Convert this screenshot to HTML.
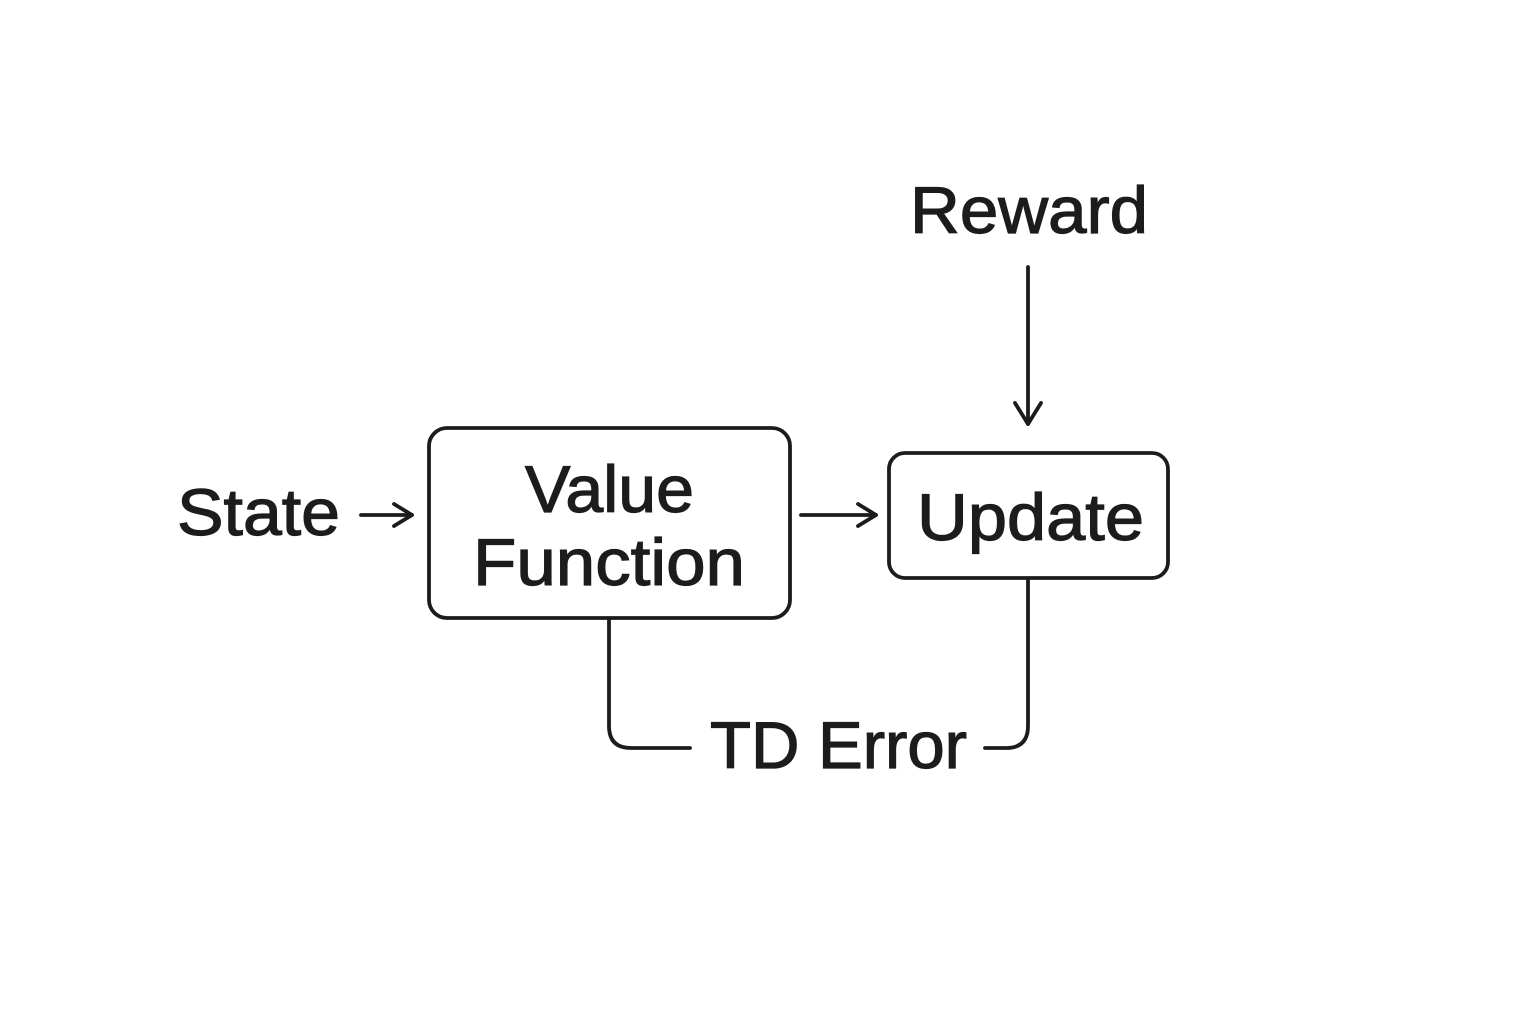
<!DOCTYPE html>
<html><head><meta charset="utf-8"><style>
html,body{margin:0;padding:0;background:#fff;}
svg{display:block;}
text{font-family:"Liberation Sans",sans-serif;fill:#1c1c1c;stroke:#1c1c1c;stroke-width:1.2;}
</style></head><body>
<svg width="1536" height="1024" viewBox="0 0 1536 1024" xmlns="http://www.w3.org/2000/svg">
<rect width="1536" height="1024" fill="#fff"/>
<g stroke="#1c1c1c" stroke-width="3.8" fill="none" stroke-linecap="round" stroke-linejoin="round">
  <rect x="429" y="428" width="361" height="190" rx="18"/>
  <rect x="889" y="453" width="279" height="125" rx="16"/>
  <line x1="1028" y1="267" x2="1028" y2="424"/>
  <polyline points="1015,403 1028,424 1041,403"/>
  <line x1="361" y1="515" x2="412" y2="515"/>
  <polyline points="394,504 412,515 394,526"/>
  <line x1="801" y1="515" x2="876" y2="515"/>
  <polyline points="858,504 876,515 858,526"/>
  <path d="M609 619 V726 Q609 748 631 748 H690"/>
  <path d="M985 748 H1006 Q1028 748 1028 726 V579"/>
</g>
<text x="910" y="233" font-size="66" textLength="238" lengthAdjust="spacingAndGlyphs">Reward</text>
<text x="177" y="535" font-size="66" textLength="163" lengthAdjust="spacingAndGlyphs">State</text>
<text x="525" y="512" font-size="66" textLength="169" lengthAdjust="spacingAndGlyphs">Value</text>
<text x="473" y="585" font-size="66" textLength="272" lengthAdjust="spacingAndGlyphs">Function</text>
<text x="917" y="540" font-size="66" textLength="227" lengthAdjust="spacingAndGlyphs">Update</text>
<text x="710" y="768" font-size="66" textLength="257" lengthAdjust="spacingAndGlyphs">TD Error</text>
</svg>
</body></html>
